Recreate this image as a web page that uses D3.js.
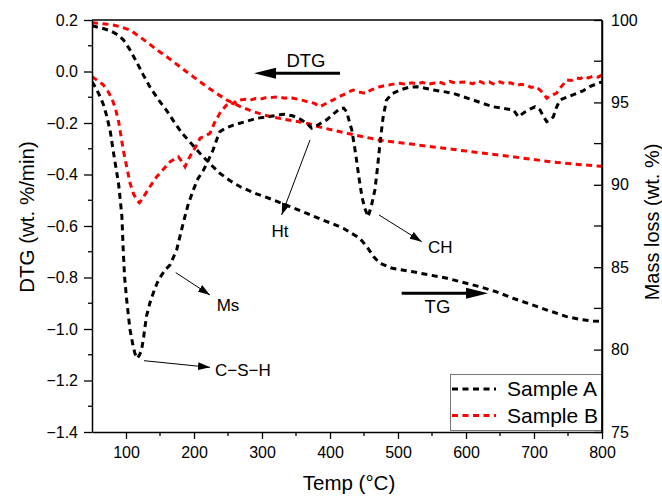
<!DOCTYPE html>
<html><head><meta charset="utf-8">
<script src="https://cdn.jsdelivr.net/npm/d3@7"></script>
<style>
html,body{margin:0;padding:0;background:#fff;}
text{font-family:"Liberation Sans",Arial,sans-serif;fill:#000;}
</style></head>
<body>
<svg id="chart" width="662" height="498"></svg>
<script>
// ---------- DATA ----------
const xTicks = [100,200,300,400,500,600,700,800];
const yLeftTicks = [0.2,0.0,-0.2,-0.4,-0.6,-0.8,-1.0,-1.2,-1.4];
const yRightTicks = [75,80,85,90,95,100];
const seriesNames = ["Sample A","Sample B"];
const seriesColors = ["#000000","#ff0000"];

// TG curves: [temperature °C, mass %]
const tgA = [[50,99.65],[65,99.5],[77,99.35],[88,99.1],[96,98.8],[105,98.25],[115,97.5],[125,96.7],[135,95.95],[147,95.2],[159,94.55],[171,93.8],[183,93.1],[196,92.5],[209,91.9],[223,91.3],[238,90.7],[253,90.25],[268,89.88],[292,89.45],[317,89.08],[341,88.68],[366,88.27],[390,87.85],[405,87.62],[420,87.35],[430,87.1],[440,86.85],[447,86.6],[455,86.2],[464,85.65],[473,85.25],[490,84.95],[522,84.72],[572,84.33],[620,83.82],[645,83.5],[670,83.1],[695,82.75],[719,82.4],[748,82.0],[770,81.82],[787,81.74],[800,81.7]];
const tgB = [[50,99.84],[65,99.78],[81,99.7],[95,99.55],[106,99.39],[118,99.05],[130,98.68],[145,98.2],[160,97.77],[175,97.3],[189,96.86],[204,96.4],[219,95.95],[234,95.52],[248,95.15],[268,94.75],[287,94.44],[306,94.2],[326,94.03],[346,93.88],[366,93.73],[390,93.45],[415,93.22],[445,92.95],[474,92.7],[513,92.5],[552,92.3],[600,92.05],[650,91.8],[687,91.6],[724,91.4],[760,91.25],[800,91.12]];
// DTG curves: [temperature °C, wt.%/min]
const dtgA = [[50,-0.04],[56,-0.065],[62,-0.098],[67,-0.13],[72,-0.176],[77,-0.235],[81,-0.305],[85,-0.37],[89,-0.434],[92,-0.51],[94,-0.564],[96,-0.70],[98,-0.80],[101,-0.887],[104,-0.96],[106,-1.004],[110,-1.06],[113,-1.094],[116.6,-1.114],[120,-1.10],[123,-1.08],[126,-1.03],[130,-0.952],[135,-0.9],[140,-0.861],[146,-0.82],[152.5,-0.79],[158,-0.77],[164.7,-0.751],[170,-0.72],[174.5,-0.693],[184,-0.59],[191,-0.52],[199,-0.46],[206,-0.415],[214,-0.383],[221,-0.345],[228,-0.305],[234,-0.26],[238,-0.234],[245,-0.222],[258,-0.208],[275,-0.195],[292,-0.182],[311,-0.175],[331,-0.166],[345,-0.172],[356,-0.185],[366,-0.201],[373,-0.22],[380,-0.212],[388,-0.198],[395,-0.188],[405,-0.165],[415,-0.143],[420,-0.142],[424.5,-0.156],[428,-0.19],[432,-0.227],[436,-0.29],[439,-0.344],[443,-0.42],[447,-0.486],[451,-0.53],[456,-0.564],[461,-0.52],[466,-0.46],[470,-0.37],[473.5,-0.279],[478,-0.18],[483,-0.111],[492,-0.085],[503,-0.072],[515,-0.062],[527.5,-0.059],[540,-0.065],[552,-0.072],[567,-0.078],[581,-0.085],[596,-0.098],[611,-0.111],[625,-0.124],[640,-0.137],[655,-0.143],[670,-0.15],[677,-0.176],[685,-0.16],[695,-0.145],[701.5,-0.137],[709,-0.15],[714,-0.175],[718.7,-0.195],[723,-0.19],[728.4,-0.176],[733,-0.14],[738,-0.111],[750,-0.098],[763,-0.085],[772,-0.075],[782,-0.059],[790,-0.05],[800,-0.04]];
const dtgB = [[50,-0.02],[58,-0.035],[66.6,-0.052],[73,-0.075],[79,-0.104],[84,-0.14],[88.7,-0.188],[92,-0.24],[96,-0.305],[101,-0.37],[106,-0.434],[111,-0.475],[116,-0.5],[119.6,-0.51],[124,-0.495],[130.4,-0.467],[137,-0.44],[145,-0.409],[155,-0.38],[165,-0.35],[171,-0.34],[177,-0.331],[182,-0.35],[186.8,-0.37],[191,-0.345],[196.6,-0.318],[203,-0.29],[209,-0.259],[216,-0.25],[223.5,-0.24],[230,-0.2],[238,-0.162],[243,-0.145],[248,-0.13],[253,-0.12],[258,-0.125],[263,-0.112],[267.6,-0.111],[275,-0.108],[282,-0.112],[290,-0.105],[297,-0.108],[305,-0.102],[316.6,-0.1],[325,-0.098],[333,-0.104],[340,-0.1],[346,-0.104],[353,-0.108],[360,-0.112],[366,-0.117],[372,-0.12],[378,-0.125],[385,-0.137],[390,-0.13],[397,-0.12],[405,-0.11],[412,-0.1],[420,-0.09],[427,-0.08],[434,-0.072],[440,-0.078],[447,-0.082],[453,-0.085],[460,-0.072],[467,-0.065],[473.5,-0.059],[480,-0.055],[488,-0.052],[495,-0.048],[503,-0.046],[512,-0.05],[520,-0.044],[528,-0.048],[536,-0.042],[544,-0.05],[552,-0.046],[560,-0.04],[568,-0.048],[576,-0.038],[584,-0.045],[592,-0.042],[601,-0.04],[610,-0.048],[618,-0.036],[626,-0.045],[634,-0.04],[642,-0.05],[650,-0.04],[658,-0.048],[666,-0.044],[674,-0.055],[681,-0.05],[689,-0.052],[696,-0.062],[702,-0.058],[709,-0.072],[714,-0.085],[718.7,-0.104],[724,-0.095],[728,-0.09],[733,-0.085],[738,-0.065],[743,-0.05],[748,-0.033],[755,-0.035],[762,-0.025],[768,-0.028],[772.5,-0.02],[780,-0.025],[787,-0.018],[794,-0.022],[800,-0.014]];

// Annotations (in data units: temperature, DTG)
const peakLabels = [
  {text:"Ht",    from:[370.6,-0.266], to:[329,-0.557],   at:[326.5,-0.641], anchor:"middle"},
  {text:"CH",    from:[472,-0.557],   to:[534.9,-0.661], at:[544,-0.704],   anchor:"start"},
  {text:"Ms",    from:[173.1,-0.781], to:[223.5,-0.868], at:[233.4,-0.929], anchor:"start"},
  {text:"C\u2212S\u2212H", from:[126.5,-1.123], to:[223.5,-1.149], at:[230.9,-1.183], anchor:"start"}
];
const axisArrows = [
  {text:"DTG", from:[414.7,-0.007], to:[288.2,-0.007], at:[364.7,0.019]},
  {text:"TG",  from:[505.4,-0.861], to:[632.4,-0.861], at:[558,-0.938]}
];

// ---------- LAYOUT ----------
const M = {left:92, right:602, top:20, bottom:432};
const svg = d3.select("#chart");
const x = d3.scaleLinear().domain([50,800]).range([M.left,M.right]);
const yL = d3.scaleLinear().domain([-1.4,0.2]).range([M.bottom,M.top]);
const yR = d3.scaleLinear().domain([75,100]).range([M.bottom,M.top]);

svg.append("defs").append("clipPath").attr("id","clip")
  .append("rect").attr("x",M.left).attr("y",M.top).attr("width",M.right-M.left).attr("height",M.bottom-M.top);

const lineL = d3.line().x(d=>x(d[0])).y(d=>yL(d[1]));
const lineR = d3.line().x(d=>x(d[0])).y(d=>yR(d[1]));

const plot = svg.append("g").attr("clip-path","url(#clip)");
const dash = "6,4.5";
plot.append("path").datum(tgB).attr("d",lineR).attr("fill","none").attr("stroke",seriesColors[1]).attr("stroke-width",3).attr("stroke-dasharray",dash);
plot.append("path").datum(dtgB).attr("d",lineL).attr("fill","none").attr("stroke",seriesColors[1]).attr("stroke-width",3).attr("stroke-dasharray",dash);
plot.append("path").datum(tgA).attr("d",lineR).attr("fill","none").attr("stroke",seriesColors[0]).attr("stroke-width",3).attr("stroke-dasharray",dash);
plot.append("path").datum(dtgA).attr("d",lineL).attr("fill","none").attr("stroke",seriesColors[0]).attr("stroke-width",3).attr("stroke-dasharray",dash);

// ---------- AXES ----------
const fmt = d3.format(".1f");
const gL = svg.append("g").attr("transform",`translate(${M.left},0)`)
  .call(d3.axisLeft(yL).tickValues(yLeftTicks).tickFormat(fmt).tickSizeInner(8).tickSizeOuter(0).tickPadding(6));
const gB = svg.append("g").attr("transform",`translate(0,${M.bottom})`)
  .call(d3.axisBottom(x).tickValues(xTicks).tickFormat(d3.format("d")).tickSizeInner(7).tickSizeOuter(0).tickPadding(8));
const gR = svg.append("g").attr("transform",`translate(${M.right},0)`)
  .call(d3.axisRight(yR).tickValues(yRightTicks).tickFormat(d3.format("d")).tickSizeInner(-8).tickSizeOuter(0).tickPadding(9));
[gL,gB,gR].forEach(g=>{
  g.selectAll("path.domain").attr("stroke","#000").attr("stroke-width",1.5);
  g.selectAll(".tick line").attr("stroke","#000").attr("stroke-width",1.3);
  g.selectAll(".tick text").style("font-size","16px").style("font-family","'Liberation Sans',Arial,sans-serif");
});
// minor ticks
const minorL = d3.range(-1.3,0.2,0.2);
svg.append("g").selectAll("line").data(minorL).join("line")
  .attr("x1",M.left-4).attr("x2",M.left).attr("y1",d=>yL(d)).attr("y2",d=>yL(d)).attr("stroke","#000").attr("stroke-width",1.3);
const minorX = d3.range(150,800,100);
svg.append("g").selectAll("line").data(minorX).join("line")
  .attr("x1",d=>x(d)).attr("x2",d=>x(d)).attr("y1",M.bottom).attr("y2",M.bottom+4).attr("stroke","#000").attr("stroke-width",1.3);
const minorR = d3.range(77.5,100,5);
svg.append("g").selectAll("line").data(minorR).join("line")
  .attr("x1",M.right-8).attr("x2",M.right).attr("y1",d=>yR(d)).attr("y2",d=>yR(d)).attr("stroke","#000").attr("stroke-width",1.3);
// top frame
svg.append("line").attr("x1",M.left).attr("x2",M.right).attr("y1",M.top).attr("y2",M.top).attr("stroke","#000").attr("stroke-width",1.3);

// axis titles
svg.append("text").attr("x",(M.left+M.right)/2+2).attr("y",490).attr("text-anchor","middle").style("font-size","20.5px").text("Temp (°C)");
svg.append("text").attr("transform","translate(33.5,217) rotate(-90)").attr("text-anchor","middle").style("font-size","20.5px").text("DTG (wt. %/min)");
svg.append("text").attr("transform","translate(659,222) rotate(-90)").attr("text-anchor","middle").style("font-size","20px").text("Mass loss (wt. %)");

// ---------- ANNOTATIONS ----------
const defs = svg.select("defs");
defs.append("marker").attr("id","thin").attr("viewBox","0 0 12 8").attr("refX",12).attr("refY",4)
  .attr("markerWidth",12).attr("markerHeight",8).attr("markerUnits","userSpaceOnUse").attr("orient","auto")
  .append("path").attr("d","M0,0L12,4L0,8Z").attr("fill","#000");

peakLabels.forEach(a=>{
  svg.append("line").attr("x1",x(a.from[0])).attr("y1",yL(a.from[1])).attr("x2",x(a.to[0])).attr("y2",yL(a.to[1]))
    .attr("stroke","#000").attr("stroke-width",1).attr("marker-end","url(#thin)");
  svg.append("text").attr("x",x(a.at[0])).attr("y",yL(a.at[1])).attr("text-anchor",a.anchor).style("font-size","17px").text(a.text);
});

axisArrows.forEach(a=>{
  const x1=x(a.from[0]), x2=x(a.to[0]), yy=yL(a.from[1]);
  const dir = Math.sign(x2-x1);
  const headLen=22, half=5.5;
  svg.append("line").attr("x1",x1).attr("x2",x2-dir*headLen+dir*2).attr("y1",yy).attr("y2",yy).attr("stroke","#000").attr("stroke-width",3);
  svg.append("path").attr("d",`M${x2},${yy}L${x2-dir*headLen},${yy-half}L${x2-dir*headLen},${yy+half}Z`).attr("fill","#000");
  svg.append("text").attr("x",x(a.at[0])).attr("y",yL(a.at[1])).attr("text-anchor","middle").style("font-size","18.5px").text(a.text);
});

// ---------- LEGEND ----------
const lg = svg.append("g");
lg.append("rect").attr("x",450.5).attr("y",374.5).attr("width",151).attr("height",56).attr("fill","#fff").attr("stroke","#777").attr("stroke-width",1);
seriesNames.forEach((n,i)=>{
  const yy = 389 + i*26.5;
  lg.append("line").attr("x1",452).attr("x2",496).attr("y1",yy).attr("y2",yy).attr("stroke",seriesColors[i]).attr("stroke-width",3).attr("stroke-dasharray",dash);
  lg.append("text").attr("x",507).attr("y",yy+7.3).style("font-size","21px").text(n);
});
// redraw right axis line on top of legend
svg.append("line").attr("x1",M.right).attr("x2",M.right).attr("y1",M.top).attr("y2",M.bottom).attr("stroke","#000").attr("stroke-width",1.5);
</script>
</body></html>
